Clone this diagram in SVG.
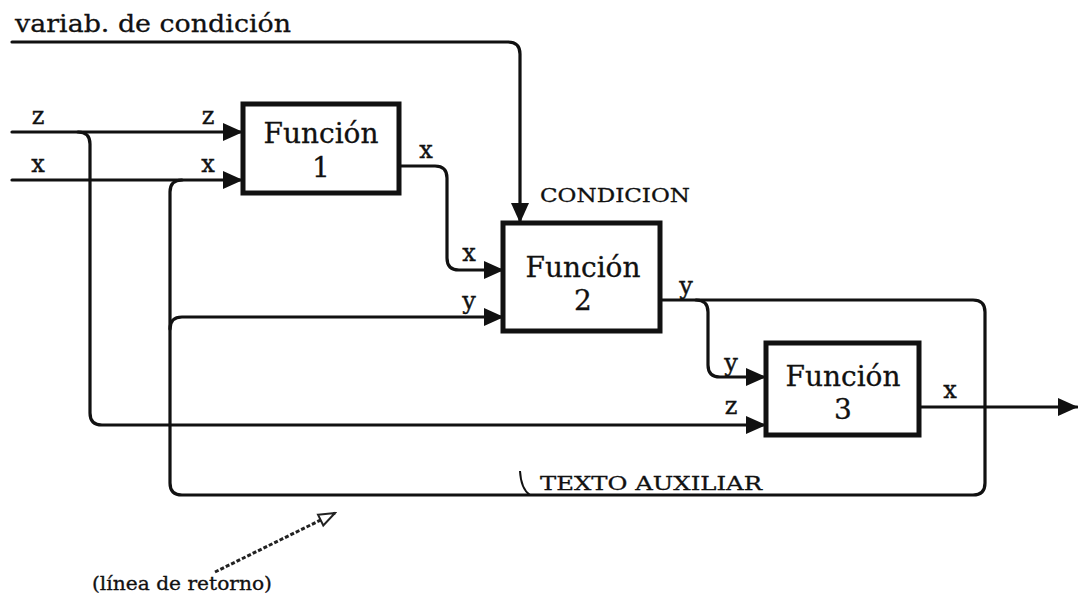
<svg xmlns="http://www.w3.org/2000/svg" width="1078" height="602" viewBox="0 0 1078 602">
<style>
.ln{fill:none;stroke:#111;stroke-width:3.2;stroke-linecap:round;stroke-linejoin:round}
.box{fill:#fff;stroke:#111;stroke-width:5}
.t{font-family:"DejaVu Serif","Liberation Serif",serif;fill:#111;stroke:#111;stroke-width:0.3}
.lb{font-family:"DejaVu Serif","Liberation Serif",serif;fill:#111;font-size:24px;text-anchor:middle;stroke:#111;stroke-width:0.4}
.fn{font-family:"DejaVu Serif","Liberation Serif",serif;fill:#111;font-size:28px;text-anchor:middle;stroke:#111;stroke-width:0.3}
</style>
<defs>
<marker id="ah" markerUnits="userSpaceOnUse" markerWidth="20" markerHeight="20" refX="19" refY="10" orient="auto" viewBox="0 0 20 20">
<path d="M0,1 L20,10 L0,19 z" fill="#111"/>
</marker>
<marker id="oh" markerUnits="userSpaceOnUse" markerWidth="20" markerHeight="16" refX="18" refY="8" orient="auto" viewBox="0 0 20 16">
<path d="M2,2 L18,8 L2,14 z" fill="#fff" stroke="#222" stroke-width="2"/>
</marker>
</defs>
<g id="connectors">
<path class="ln" d="M12,42 H508 Q520,42 520,54 V222" marker-end="url(#ah)"/>
<path class="ln" d="M12,132 H242" marker-end="url(#ah)"/>
<path class="ln" d="M12,180 H242" marker-end="url(#ah)"/>
<path class="ln" d="M78,132 Q90,132 90,144 V413 Q90,425 102,425 H765" marker-end="url(#ah)"/>
<path class="ln" d="M660,300 H973 Q985,300 985,312 V483 Q985,495 973,495 H182 Q170,495 170,483 V192 Q170,180 182,180"/>
<path class="ln" d="M170,329 Q170,317 182,317 H503" marker-end="url(#ah)"/>
<path class="ln" d="M400,166 H435 Q447,166 447,178 V258 Q447,270 459,270 H503" marker-end="url(#ah)"/>
<path class="ln" d="M696,300 Q708,300 708,312 V365 Q708,377 720,377 H765" marker-end="url(#ah)"/>
<path class="ln" d="M918,407 H1077" marker-end="url(#ah)"/>
<path d="M215,572 L335,513" fill="none" stroke="#222" stroke-width="3" stroke-dasharray="4,2" marker-end="url(#oh)"/>
<path d="M520,471 Q521,489 530,495" fill="none" stroke="#111" stroke-width="2"/>
</g>
<g id="node1">
<rect class="box" x="243" y="104" width="156" height="89"/>
<text class="fn" x="321" y="143">Función</text>
<text class="fn" x="321" y="177">1</text>
</g>
<g id="node2">
<rect class="box" x="503" y="223" width="157" height="108"/>
<text class="fn" x="583" y="277">Función</text>
<text class="fn" x="583" y="310">2</text>
</g>
<g id="node3">
<rect class="box" x="766" y="343" width="153" height="92"/>
<text class="fn" x="843" y="386">Función</text>
<text class="fn" x="843" y="419">3</text>
</g>
<g id="labels">
<text class="t" x="15" y="32" font-size="25" textLength="276" lengthAdjust="spacingAndGlyphs">variab. de condición</text>
<text class="t" x="540" y="202" font-size="19" textLength="150" lengthAdjust="spacingAndGlyphs">CONDICION</text>
<text class="t" x="540" y="490" font-size="19" textLength="222" lengthAdjust="spacingAndGlyphs">TEXTO AUXILIAR</text>
<text class="t" x="92" y="590" font-size="18" textLength="180" lengthAdjust="spacingAndGlyphs">(línea de retorno)</text>
<text class="lb" x="38" y="124">z</text>
<text class="lb" x="38" y="172">x</text>
<text class="lb" x="208" y="124">z</text>
<text class="lb" x="208" y="172">x</text>
<text class="lb" x="426" y="158">x</text>
<text class="lb" x="469" y="261">x</text>
<text class="lb" x="469" y="309">y</text>
<text class="lb" x="686" y="294">y</text>
<text class="lb" x="731" y="371">y</text>
<text class="lb" x="731" y="414">z</text>
<text class="lb" x="950" y="398">x</text>
</g>
</svg>
